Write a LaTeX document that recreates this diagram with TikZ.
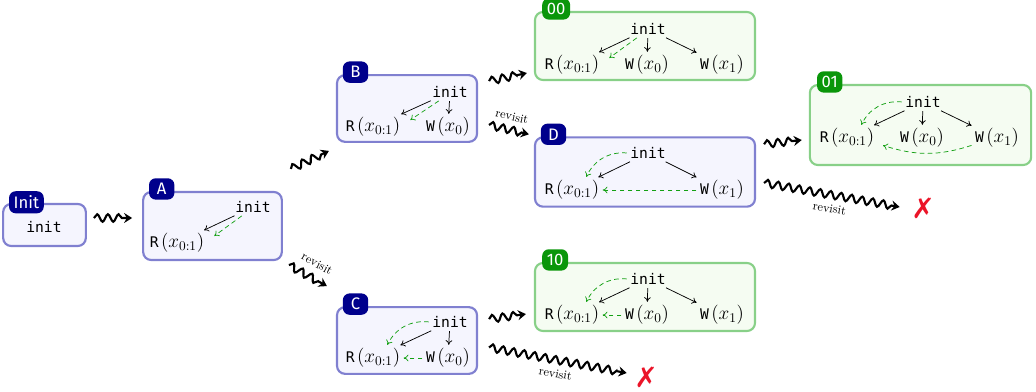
\documentclass[tikz,border=0pt]{standalone}
\usepackage{fontspec}
\setsansfont{Fira Sans}
\setmonofont{DejaVu Sans Mono}
\newfontfamily\xmarkfont{DejaVu Sans}
\usepackage{tikz}
\usetikzlibrary{arrows.meta, decorations.pathmorphing, calc}
\definecolor{boxblue}{RGB}{128, 128, 208}
\definecolor{fillblue}{RGB}{245, 245, 254}
\definecolor{tabblue}{RGB}{0, 0, 140}
\definecolor{boxgreen}{RGB}{136, 208, 136}
\definecolor{fillgreen}{RGB}{245, 252, 242}
\definecolor{tabgreen}{RGB}{10, 150, 10}
\definecolor{rfgreen}{RGB}{20, 160, 20}
\definecolor{xred}{RGB}{235, 20, 40}

\newcommand{\evR}[1]{\texttt{R}\,{\fontsize{14}{16}\selectfont$(#1)$}}
\newcommand{\evW}[1]{\texttt{W}\,{\fontsize{14}{16}\selectfont$(#1)$}}

\begin{document}
\begin{tikzpicture}[x=0.75pt, y=-0.75pt,
    bluebox/.style={draw=boxblue, fill=fillblue, line width=1.6pt, rounded corners=6pt, inner sep=0pt},
    greenbox/.style={bluebox, draw=boxgreen, fill=fillgreen},
    bluetab/.style={fill=tabblue, text=white, rounded corners=5pt, anchor=west,
      font=\fontsize{12.5}{14}\selectfont\sffamily, inner xsep=3.5pt, minimum width=19pt, minimum height=16pt},
    greentab/.style={bluetab, fill=tabgreen},
    ev/.style={font=\fontsize{11}{13}\selectfont\ttfamily, inner sep=2pt},
    po/.style={-{To[length=3.5pt, width=5pt]}, line width=0.55pt, shorten >=0.5pt, shorten <=0.5pt},
    rf/.style={po, rfgreen, dash pattern=on 3.5pt off 2.5pt},
    wave/.style={decorate, decoration={snake, amplitude=2.8pt, segment length=8pt, post length=5pt},
      line width=1.6pt, -{Stealth[length=6pt, width=7.5pt, inset=2pt]}},
    xmark/.style={text=xred, font=\xmarkfont\bfseries\fontsize{21}{21}\selectfont, inner sep=1pt}]
  \useasboundingbox (0, 0) rectangle (1036, 392);

  % executions
  \node[bluebox, minimum width=62pt, minimum height=31.5pt] (bInit) at (44.5, 225) {};
  \node[bluebox, minimum width=104pt, minimum height=51pt] (bA) at (212.5, 226) {};
  \node[bluebox, minimum width=105pt, minimum height=50pt] (bB) at (407, 108.5) {};
  \node[bluebox, minimum width=105pt, minimum height=50pt] (bC) at (407, 340.5) {};
  \node[greenbox, minimum width=165pt, minimum height=51pt] (b00) at (645, 46) {};
  \node[bluebox, minimum width=165pt, minimum height=52pt] (bD) at (645, 172) {};
  \node[greenbox, minimum width=165pt, minimum height=51pt] (b10) at (645, 297) {};
  \node[greenbox, minimum width=166pt, minimum height=60pt] (b01) at (920.5, 125) {};

  \node[bluetab] (tInit) at ([xshift=5pt, yshift=0.5pt]bInit.north west) {Init};
  \foreach \b in {A, B, C, D} {
    \node[bluetab] (t\b) at ([xshift=5pt, yshift=1.5pt]b\b.north west) {\b};
  }
  \foreach \b in {00, 01, 10} {
    \node[greentab] (t\b) at ([xshift=6pt, yshift=1.5pt]b\b.north west) {\b};
  }

  % events
  \node[ev] (iInit) at (44, 227) {init};

  \node[ev] (iA) at (253, 207) {init};
  \node[ev] (rA) at (177, 243) {\evR{x_{0:1}}};
  \draw[po] (iA) -- (rA);
  \draw[rf] ([xshift=-8pt]iA.south) -- ([xshift=5pt, yshift=5pt]rA.east);

  \node[ev] (iB) at (450, 92) {init};
  \node[ev] (rB) at (373, 127) {\evR{x_{0:1}}};
  \node[ev] (wB) at (448, 127) {\evW{x_0}};
  \draw[po] (iB) -- (rB);
  \draw[po] (iB) -- (wB);
  \draw[rf] ([xshift=-8pt]iB.south) -- ([xshift=5pt, yshift=5pt]rB.east);

  \node[ev] (iC) at (450, 322) {init};
  \node[ev] (rC) at (373, 358) {\evR{x_{0:1}}};
  \node[ev] (wC) at (448, 358) {\evW{x_0}};
  \draw[po] (iC) -- (rC);
  \draw[po] (iC) -- (wC);
  \draw[rf] (iC.west) to[bend right=35] ([xshift=-12pt]rC.north east);
  \draw[rf] (wC) -- (rC);

  \node[ev] (i00) at (648, 29) {init};
  \node[ev] (r00) at (572, 65) {\evR{x_{0:1}}};
  \node[ev] (w00) at (647, 65) {\evW{x_0}};
  \node[ev] (v00) at (722, 65) {\evW{x_1}};
  \draw[po] (i00) -- (r00);
  \draw[po] (i00) -- (w00);
  \draw[po] (i00) -- (v00);
  \draw[rf] ([xshift=-8pt]i00.south) -- ([xshift=5pt, yshift=5pt]r00.east);

  \node[ev] (iD) at (648, 153) {init};
  \node[ev] (rD) at (572, 190) {\evR{x_{0:1}}};
  \node[ev] (vD) at (722, 190) {\evW{x_1}};
  \draw[po] (iD) -- (rD);
  \draw[po] (iD) -- (vD);
  \draw[rf] (iD.west) to[bend right=35] ([xshift=-12pt]rD.north east);
  \draw[rf] (vD) -- (rD);

  \node[ev] (i10) at (648, 279) {init};
  \node[ev] (r10) at (572, 315) {\evR{x_{0:1}}};
  \node[ev] (w10) at (647, 315) {\evW{x_0}};
  \node[ev] (v10) at (722, 315) {\evW{x_1}};
  \draw[po] (i10) -- (r10);
  \draw[po] (i10) -- (w10);
  \draw[po] (i10) -- (v10);
  \draw[rf] (i10.west) to[bend right=35] ([xshift=-12pt]r10.north east);
  \draw[rf] (w10) -- (r10);

  \node[ev] (i01) at (923, 102) {init};
  \node[ev] (r01) at (847, 138) {\evR{x_{0:1}}};
  \node[ev] (w01) at (922, 138) {\evW{x_0}};
  \node[ev] (v01) at (997, 138) {\evW{x_1}};
  \draw[po] (i01) -- (r01);
  \draw[po] (i01) -- (w01);
  \draw[po] (i01) -- (v01);
  \draw[rf] (i01.west) to[bend right=35] ([xshift=-12pt]r01.north east);
  \draw[rf] ([yshift=4pt]v01.south west) to[bend left=18] ([xshift=4pt, yshift=4pt]r01.south east);

  % dead ends
  \node[xmark] (x1) at (646, 377) {✗};
  \node[xmark] (x2) at (923, 208) {✗};

  % exploration steps
  \draw[wave] ($(bInit.east)+(7, -7)$) -- ($(bA.west)+(-10, -8)$);
  \draw[wave] ($(bA.north east)+(8, -22)$) -- ($(bB.south west)+(-7, 8)$);
  \draw[wave] ($(bA.south east)+(6, 4)$) -- node[pos=0.55, above=4pt, sloped, font=\small] {revisit} ($(bC.north west)+(-9, -20)$);
  \draw[wave] ($(bB.north east)+(11, 7)$) -- ($(b00.south west)+(-7, -8)$);
  \draw[wave] ($(bB.east)+(11, 16.5)$) -- node[midway, above=3pt, sloped, font=\small] {revisit} ($(bD.north west)+(-5, -2)$);
  \draw[wave] ($(bC.north east)+(11, 13)$) -- ($(b10.south west)+(-8, -18)$);
  \draw[wave] ($(bC.east)+(11, 7)$) -- node[midway, below=3pt, sloped, font=\small] {revisit} ($(x1.west)+(-6, -4)$);
  \draw[wave] ($(bD.north east)+(8, 8)$) -- ($(b01.west)+(-7, 15)$);
  \draw[wave] ($(bD.east)+(8, 11)$) -- node[midway, below=3pt, sloped, font=\small] {revisit} ($(x2.west)+(-10, -1)$);

\end{tikzpicture}
\end{document}
